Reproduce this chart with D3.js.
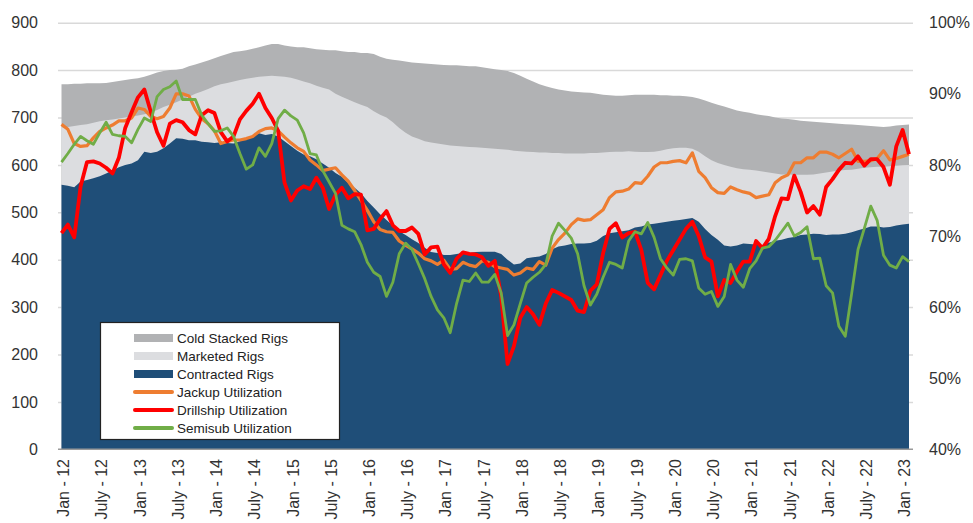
<!DOCTYPE html>
<html>
<head>
<meta charset="utf-8">
<script src="https://cdn.jsdelivr.net/npm/d3@7"></script>
<style>
  body { margin: 0; background: #fff; }
  svg { display: block; font-family: Arial, "Liberation Sans", sans-serif; }
  .grid line { stroke: #d9d9d9; stroke-width: 1.5; }
  .grid .domain { display: none; }
  .lbl { fill: #333; font-size: 16px; }
</style>
</head>
<body>
<svg width="973" height="523"></svg>
<script>
// monthly categories, Jan 2012 .. Feb 2023
var months = d3.timeMonth.range(new Date(2012, 0, 1), new Date(2023, 2, 1));

// tick labels every 6 months
var tickLabels = ["Jan - 12", "July - 12", "Jan - 13", "July - 13", "Jan - 14", "July - 14",
  "Jan - 15", "July - 15", "Jan - 16", "July - 16", "Jan - 17", "July - 17", "Jan - 18",
  "July - 18", "Jan - 19", "July - 19", "Jan - 20", "July - 20", "Jan - 21", "July - 21",
  "Jan - 22", "July - 22", "Jan - 23"];

// rig counts (left axis) - total fleet = contracted + marketed idle + cold stacked
var fleet = [770,770,771,771,772,772,772,773,775,777,
  779,781,783,786,790,795,798,800,801,803,
  808,812,816,820,825,830,834,838,840,842,
  845,848,852,855,855,852,850,848,848,846,
  844,843,842,842,840,838,838,836,836,834,
  828,824,822,820,818,816,815,814,813,812,
  811,810,810,809,808,808,806,804,802,800,
  798,794,788,782,776,770,766,762,759,757,
  755,754,753,752,750,748,747,746,746,747,
  748,748,748,748,747,747,746,746,745,743,
  740,736,731,727,723,719,715,712,710,707,
  705,703,700,698,697,695,693,692,691,690,
  689,688,687,686,685,684,683,682,681,680,
  681,683,684,685];

var marketed = [679,680,682,684,686,689,692,694,696,698,
  700,702,704,707,710,716,722,727,732,738,
  744,750,755,760,766,770,773,776,779,782,
  784,786,787,788,787,786,784,780,776,772,
  767,763,759,750,744,738,732,727,722,713,
  706,700,690,678,668,660,655,650,647,645,
  643,641,640,639,638,637,636,635,634,633,
  632,630,629,628,627,626,626,625,625,624,
  624,624,624,625,625,626,627,628,628,629,
  628,627,627,628,630,633,635,636,636,634,
  628,618,610,604,600,596,593,591,590,588,
  586,584,582,580,580,579,579,579,580,582,
  584,586,588,589,590,592,594,595,596,596,
  597,598,599,600];

var contracted = [558,556,553,565,568,572,576,582,588,595,
  600,603,610,628,625,628,635,645,656,655,
  652,652,649,648,646,648,646,645,650,655,
  660,667,663,665,660,650,640,630,622,618,
  612,603,594,583,575,562,552,540,524,510,
  496,484,472,460,452,443,435,425,416,414,
  410,410,412,414,414,416,417,417,417,412,
  400,390,392,403,405,407,412,422,428,430,
  433,434,434,435,440,450,456,458,460,462,
  468,470,474,476,478,480,482,484,486,488,
  480,465,452,442,430,428,430,434,433,432,
  430,436,440,442,446,448,452,453,455,454,
  452,453,453,455,458,462,466,470,470,468,
  469,472,474,476];

// utilization % (right axis)
var jackup = [85.7,85.0,83.0,82.6,82.7,83.8,84.7,85.2,85.6,86.2,
  86.2,86.6,88.0,87.8,86.8,86.5,86.8,88.0,90.0,90.0,
  89.7,87.8,86.5,85.8,84.8,83.0,83.3,83.5,83.5,83.7,
  84.0,84.7,85.1,85.2,84.8,83.9,83.1,82.4,81.9,80.7,
  80.0,79.2,79.4,79.6,78.6,77.7,76.4,75.0,73.6,72.0,
  70.9,70.6,70.5,69.3,68.7,68.2,67.6,66.8,66.5,66.0,
  66.6,65.3,65.4,66.3,65.9,65.7,66.5,66.3,65.7,65.5,
  65.3,64.5,64.8,65.5,65.3,66.4,65.9,68.3,69.5,70.4,
  71.6,72.4,72.2,72.3,73.0,73.7,75.4,76.2,76.3,76.6,
  77.5,77.4,78.4,79.7,80.3,80.3,80.5,80.6,80.3,81.7,
  79.1,78.2,76.8,76.1,76.0,76.9,76.5,76.2,76.0,75.4,
  75.6,75.8,77.5,78.2,78.6,80.3,80.3,81.0,81.0,81.8,
  81.8,81.5,81.0,81.6,82.2,80.5,80.5,80.6,80.9,82.0,
  80.7,80.9,81.2,81.5];

var drillship = [70.4,71.6,69.8,77.0,80.4,80.5,80.2,79.6,78.8,81.0,
  85.2,87.4,89.5,90.6,87.5,84.6,82.7,85.8,86.3,86.0,
  84.9,84.3,87.0,87.7,87.3,84.6,83.3,84.0,86.4,87.6,
  88.6,90.0,88.0,86.6,84.8,77.5,75.0,76.4,77.0,76.6,
  78.2,76.8,73.8,75.8,76.8,75.3,75.9,75.8,70.8,71.0,
  72.4,73.5,71.5,70.7,70.7,71.2,70.3,67.4,68.4,68.5,
  66.0,64.8,66.8,67.7,67.5,67.4,67.0,65.8,66.5,61.5,
  52.0,54.5,58.5,60.0,59.0,57.5,60.5,62.4,62.0,61.5,
  61.0,59.5,59.3,62.3,63.2,67.6,71.0,71.8,69.8,70.4,
  70.6,68.0,63.4,62.5,64.5,66.5,68.0,69.5,71.0,72.0,
  70.0,67.0,66.4,61.5,63.8,63.4,65.0,66.4,66.4,69.3,
  68.3,69.6,72.8,75.3,75.2,78.5,76.2,73.3,74.2,73.0,
  76.9,78.0,79.3,80.3,80.2,81.2,79.9,80.8,80.8,79.7,
  77.2,82.6,84.9,81.5];

var semisub = [80.4,81.6,82.9,84.0,83.4,82.9,84.5,86.0,84.3,84.1,
  84.0,83.1,85.0,86.6,86.1,89.6,90.6,91.0,91.8,89.2,
  89.2,89.2,87.0,85.8,84.7,84.8,85.2,84.0,81.6,79.4,
  80.0,82.4,81.2,83.0,86.5,87.7,86.9,86.3,84.5,81.6,
  81.4,79.2,77.6,76.0,71.5,71.0,70.6,68.8,66.3,64.9,
  64.3,61.5,63.5,67.5,69.0,68.1,66.1,64.0,61.5,59.6,
  58.5,56.4,60.5,63.8,63.6,64.8,63.5,63.5,64.6,62.0,
  56.0,57.5,60.5,63.4,64.2,64.9,66.0,70.0,71.8,70.8,
  69.7,67.5,63.0,60.3,61.8,64.2,66.3,66.0,65.5,69.3,
  70.6,70.3,71.9,69.8,66.8,65.5,64.5,66.7,66.8,66.5,
  62.7,61.8,62.2,60.1,61.5,66.0,63.8,62.8,65.4,66.5,
  68.3,68.5,69.4,70.6,71.8,70.0,70.5,71.3,66.8,66.9,
  63.0,62.0,57.3,55.9,61.9,68.1,71.1,74.2,72.2,67.3,
  65.9,65.5,67.1,66.4];

var svg = d3.select("svg");

// plot box
var plotL = 61.5, plotR = 909, plotT = 22.7, plotB = 449.3;

var x = d3.scaleLinear().domain([0, months.length - 1]).range([plotL, plotR]);
var yL = d3.scaleLinear().domain([0, 900]).range([plotB, plotT]);
var yR = d3.scaleLinear().domain([40, 100]).range([plotB, plotT]);

// gridlines (a little wider than the areas)
svg.append("g").attr("class", "grid")
  .attr("transform", "translate(913,0)")
  .call(d3.axisLeft(yL).tickValues(d3.range(100, 1000, 100)).tickSize(855).tickFormat(""));

// stacked areas drawn as overlapping layers from 0
function areaOf(arr) {
  return d3.area()
    .x(function (d, i) { return x(i); })
    .y0(yL(0))
    .y1(function (d) { return yL(d); })(arr);
}
svg.append("path").attr("d", areaOf(fleet)).attr("fill", "#b1b2b4");
svg.append("path").attr("d", areaOf(marketed)).attr("fill", "#dcdde0");
svg.append("path").attr("d", areaOf(contracted)).attr("fill", "#1f4e78");

// bottom axis line
svg.append("line").attr("x1", 58).attr("x2", 913).attr("y1", plotB).attr("y2", plotB)
  .attr("stroke", "#9a9a9a").attr("stroke-width", 1.5);

// utilization lines
var line = d3.line()
  .x(function (d, i) { return x(i); })
  .y(function (d) { return yR(d); });

var lines = [
  { data: jackup, color: "#ee7d31", w: 3.2 },
  { data: drillship, color: "#ff0000", w: 3.8 },
  { data: semisub, color: "#70ad47", w: 2.8 }
];
lines.forEach(function (s) {
  svg.append("path").attr("d", line(s.data))
    .attr("fill", "none").attr("stroke", s.color)
    .attr("stroke-width", s.w).attr("stroke-linejoin", "round");
});

// left tick labels
yL.ticks(9).forEach(function (t) {
  svg.append("text").attr("class", "lbl")
    .attr("x", 38).attr("y", yL(t)).attr("dy", "0.35em")
    .attr("text-anchor", "end").text(t);
});

// right tick labels
d3.range(40, 101, 10).forEach(function (t) {
  svg.append("text").attr("class", "lbl")
    .attr("x", 929).attr("y", yR(t)).attr("dy", "0.35em")
    .text(t + "%");
});

// x labels, rotated
tickLabels.forEach(function (lab, k) {
  var px = x(k * 6) + 2;
  svg.append("text").attr("class", "lbl")
    .attr("transform", "translate(" + px + ",459) rotate(-90)")
    .attr("dy", "0.35em").attr("text-anchor", "end").text(lab);
});

// legend box
var lg = svg.append("g").attr("transform", "translate(100,322)");
lg.append("rect").attr("x", 0.5).attr("y", 0.5).attr("width", 239).attr("height", 117)
  .attr("fill", "#fff").attr("stroke", "#222").attr("stroke-width", 1.2);

var legendItems = [
  { name: "Cold Stacked Rigs", color: "#b1b2b4", type: "area" },
  { name: "Marketed Rigs", color: "#dcdde0", type: "area" },
  { name: "Contracted Rigs", color: "#1f4e78", type: "area" },
  { name: "Jackup Utilization", color: "#ee7d31", type: "line" },
  { name: "Drillship Utilization", color: "#ff0000", type: "line" },
  { name: "Semisub Utilization", color: "#70ad47", type: "line" }
];
legendItems.forEach(function (d, i) {
  var cy = 16 + i * 18;
  if (d.type == "area") {
    lg.append("rect").attr("x", 34).attr("y", cy - 4).attr("width", 39).attr("height", 8)
      .attr("fill", d.color);
  } else {
    lg.append("line").attr("x1", 35).attr("x2", 72).attr("y1", cy).attr("y2", cy)
      .attr("stroke", d.color).attr("stroke-width", 4).attr("stroke-linecap", "round");
  }
  lg.append("text").attr("x", 77).attr("y", cy).attr("dy", "0.35em")
    .attr("fill", "#222").style("font-size", "13.5px").text(d.name);
});
</script>
</body>
</html>
